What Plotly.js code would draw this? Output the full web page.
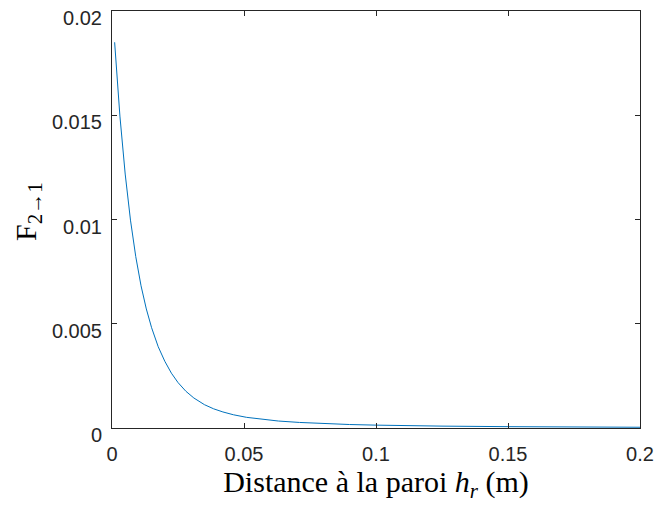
<!DOCTYPE html>
<html>
<head>
<meta charset="utf-8">
<script src="https://cdn.plot.ly/plotly-3.0.1.min.js"></script>
<style>html,body{margin:0;padding:0;background:#fff;}#chart{width:657px;height:505px;}</style>
</head>
<body>
<div id="chart"></div>
<script>
// Distance to wall h_r (m)
const distance = [0.001, 0.003, 0.005, 0.007, 0.009, 0.011, 0.013, 0.015, 0.0175, 0.020, 0.0225, 0.025, 0.028, 0.031, 0.035, 0.0385, 0.042, 0.046, 0.051, 0.056, 0.063, 0.071, 0.080, 0.090, 0.100, 0.110, 0.125, 0.150, 0.175, 0.200];
// View factor F_{2->1}
const viewFactor = [0.0185, 0.01496, 0.01218, 0.00997, 0.00822, 0.00682, 0.00571, 0.00481, 0.00390, 0.00320, 0.00263, 0.00218, 0.00176, 0.00144, 0.00112, 0.00092, 0.00077, 0.000634, 0.000511, 0.000423, 0.000335, 0.000266, 0.000211, 0.000167, 0.000137, 0.000114, 0.000090, 0.000064, 0.000047, 0.000036];

const xTicks = [0, 0.05, 0.1, 0.15, 0.2];
const xTickLabels = ['0', '0.05', '0.1', '0.15', '0.2'];
const yTicks = [0, 0.005, 0.01, 0.015, 0.02];
const yTickLabels = ['0', '0.005', '0.01', '0.015', '0.02'];

const trace = {
  x: distance, y: viewFactor, type: 'scatter', mode: 'lines',
  line: {color: '#0072BD', width: 1},
  hoverinfo: 'skip'
};

const axisCommon = {
  showline: true, linecolor: '#262626', linewidth: 1, mirror: 'ticks',
  ticks: 'inside', ticklen: 5, tickcolor: '#262626', tickwidth: 1,
  showgrid: false, zeroline: false,
  tickfont: {family: 'Liberation Sans, Arial, sans-serif', size: 20, color: '#262626'},
  tickmode: 'array'
};

const serif = {family: 'Liberation Serif, Times New Roman, serif', size: 30, color: '#000'};

const layout = {
  width: 657, height: 505,
  margin: {l: 112, r: 17, t: 11, b: 77},
  paper_bgcolor: '#fff', plot_bgcolor: '#fff',
  showlegend: false,
  xaxis: Object.assign({}, axisCommon, {
    range: [0, 0.2], tickvals: xTicks, ticktext: xTickLabels,
    ticklabelstandoff: 8,
    title: {text: 'Distance à la paroi <i>h<sub>r</sub></i> (m)', standoff: 4, font: serif}
  }),
  yaxis: Object.assign({}, axisCommon, {
    range: [0, 0.02], tickvals: yTicks, ticktext: yTickLabels,
    ticklabelstandoff: 5, ticklabelshift: 7
  }),
  annotations: [{
    text: 'F<sub>2→1</sub>', textangle: -90, font: serif, showarrow: false,
    xref: 'paper', yref: 'paper', x: 0, y: 0.518, xanchor: 'center', yanchor: 'middle',
    xshift: -84
  }]
};

Plotly.newPlot('chart', [trace], layout, {staticPlot: true, displayModeBar: false});
</script>
</body>
</html>
